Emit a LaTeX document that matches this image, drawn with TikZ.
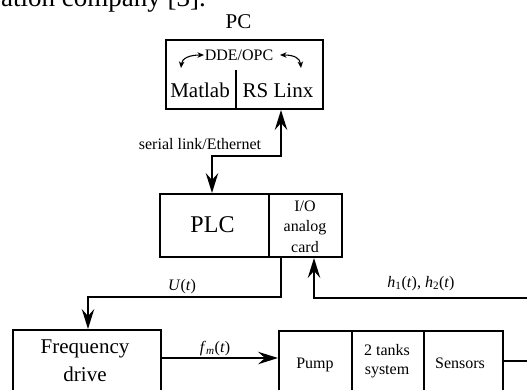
\documentclass[tikz,border=0pt]{standalone}
\usepackage{fontspec}
\setmainfont{Liberation Serif}
\usetikzlibrary{arrows.meta}
\tikzset{
  box/.style={draw, line width=2pt, inner sep=0pt},
  divider/.style={line width=1.5pt},
  conn/.style={line width=1.5pt},
  bigtip/.tip={Stealth[length=20pt,width=12.5pt,inset=7pt]},
  smalltip/.tip={Stealth[length=6.5pt,width=5.5pt,inset=2pt]},
  lbl/.style={inner sep=0pt, anchor=base},
  fA/.style={font=\fontsize{16}{20.5}\selectfont},
  fB/.style={font=\fontsize{21}{28}\selectfont},
  fC/.style={font=\fontsize{24}{28}\selectfont},
}
\begin{document}
\begin{tikzpicture}[x=1pt,y=-1pt]
\useasboundingbox (0,0) rectangle (527,389);
\clip (0,0) rectangle (527,389);
% surrounding text of the page
\node[inner sep=0pt, anchor=base east, font=\fontsize{27}{30}\selectfont] (cap) at (206,6) {ation company [3].};
% boxes
\node[box, anchor=north west, minimum width=157pt, minimum height=69pt] (pc) at (165,39) {};
\node[box, anchor=north west, minimum width=182pt, minimum height=63pt] (plc) at (159,193) {};
\node[box, anchor=north west, minimum width=148pt, minimum height=66pt] (fd) at (12,329) {};
\node[box, anchor=north west, minimum width=224pt, minimum height=65pt] (proc) at (278,330) {};
% dividers
\coordinate (d1) at (236,70);
\coordinate (d2) at (269,0);
\coordinate (d3) at (352,0);
\coordinate (d4) at (424,0);
\draw[divider] (d1) -- (d1 |- pc.south);
\draw[divider] (d2 |- plc.north) -- (d2 |- plc.south);
\draw[divider] (d3 |- proc.north) -- (d3 |- proc.south);
\draw[divider] (d4 |- proc.north) -- (d4 |- proc.south);
% texts
\node[lbl, fB] (pct) at (238.5,28) {PC};
\node[lbl, fA] (dde) at (239,60) {DDE/OPC};
\node[lbl, fB] (mat) at (200,97) {Matlab};
\node[lbl, fB] (rsl) at (278,97) {RS Linx};
\node[lbl, fA] (ser) at (200,149) {serial link/Ethernet};
\node[lbl, fC] (plct) at (212.5,232) {PLC};
\node[inner sep=0pt, fA, align=center] (io) at (305,226.5) {I/O\\analog\\card};
\node[lbl, fA] (ut) at (182,290) {\textit{U}(\textit{t})};
\node[lbl, fA] (ht) at (421,287) {\textit{h}\textsubscript{1}(\textit{t}), \textit{h}\textsubscript{2}(\textit{t})};
\node[inner sep=0pt, fB, align=center] (fdt) at (85,361) {Frequency\\drive};
\node[lbl, fA] (fmt) at (215,352) {\textit{f}\textsubscript{\textit{m}}(\textit{t})};
\node[lbl, fA] (pump) at (315,368) {Pump};
\node[inner sep=0pt, fA, align=center, font=\fontsize{16}{19}\selectfont] (tanks) at (387,361) {2 tanks\\system};
\node[lbl, fA] (sens) at (460,368) {Sensors};
% small curved arrows in the PC box
\coordinate (la) at (181,68);
\coordinate (lb) at (204,55);
\coordinate (ra) at (280,55);
\coordinate (rb) at (301,68);
\draw[line width=1.1pt, smalltip-smalltip] (la) .. controls (182,58) and (190,55) .. (lb);
\draw[line width=1.1pt, smalltip-smalltip] (ra) .. controls (294,55) and (300,58) .. (rb);
% connectors
\coordinate (c1) at (281,156);
\coordinate (c2) at (212,156);
\draw[conn, bigtip-bigtip] (pc.south -| c1) -- (c1) -- (c2) -- (plc.north -| c2);
\coordinate (u1) at (281,297);
\coordinate (u2) at (88,297);
\draw[conn, -bigtip] (plc.south -| u1) -- (u1) -- (u2) -- (fd.north -| u2);
\coordinate (f1) at (0,358);
\draw[conn, -bigtip] (fd.east |- f1) -- (proc.west |- f1);
\coordinate (h0) at (0,361);
\coordinate (h1) at (545,361);
\coordinate (h2) at (545,298);
\coordinate (h3) at (314,298);
\draw[conn, -bigtip] (proc.east |- h0) -- (h1) -- (h2) -- (h3) -- (plc.south -| h3);
\end{tikzpicture}
\end{document}
